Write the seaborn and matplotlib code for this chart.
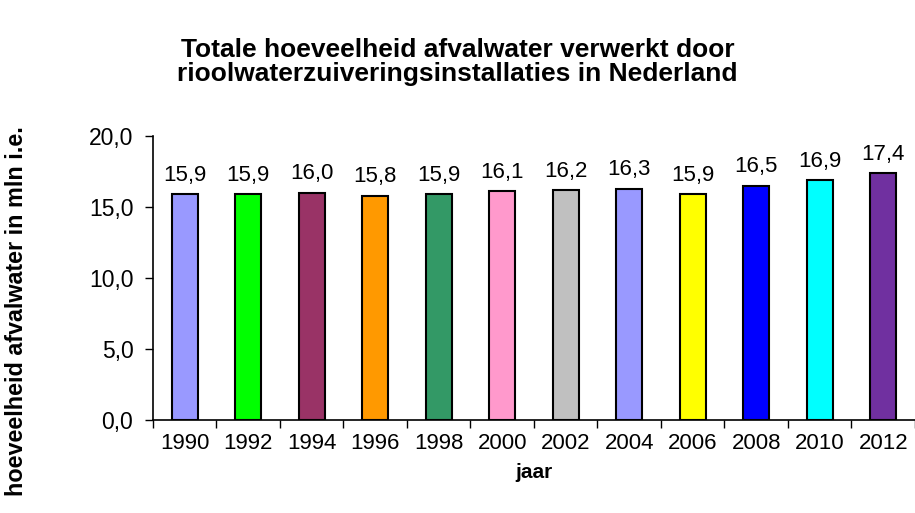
import pandas as pd
import seaborn as sns
import matplotlib.pyplot as plt
from matplotlib.ticker import FuncFormatter, FixedLocator

years = ['1990', '1992', '1994', '1996', '1998', '2000', '2002', '2004', '2006', '2008', '2010', '2012']
volume = [15.9, 15.9, 16.0, 15.8, 15.9, 16.1, 16.2, 16.3, 15.9, 16.5, 16.9, 17.4]
bar_colors = ['#9999FF', '#00FF00', '#993366', '#FF9900', '#339966', '#FF99CC',
              '#C0C0C0', '#9999FF', '#FFFF00', '#0000FF', '#00FFFF', '#7030A0']

sns.set_style('white')
plt.rcParams['font.family'] = ['Liberation Sans', 'DejaVu Sans']
plt.rcParams['text.color'] = 'black'
plt.rcParams['xtick.color'] = 'black'
plt.rcParams['ytick.color'] = 'black'

df = pd.DataFrame({'jaar': years, 'waarde': volume})

fig = plt.figure(figsize=(9.15, 5.13), dpi=100)
ax = fig.add_axes([0.167, 0.181, 0.833, 0.554])

sns.barplot(data=df, x='jaar', y='waarde', hue='jaar', palette=bar_colors,
            legend=False, width=0.41, edgecolor='black', linewidth=1.5,
            saturation=1, ax=ax)

def comma(v):
    return f'{v:.1f}'.replace('.', ',')

for i, v in enumerate(volume):
    ax.annotate(comma(v), (i, v), xytext=(0, 6), textcoords='offset points',
                ha='center', va='bottom', fontsize=16)

ax.set_ylim(0, 20)
ax.set_xlim(-0.5, 11.5)
ax.set_yticks([0, 5, 10, 15, 20])
ax.yaxis.set_major_formatter(FuncFormatter(lambda v, p: comma(v)))
ax.tick_params(axis='y', length=6, width=1, direction='out', labelsize=16.5, left=True, pad=8)
ax.tick_params(axis='x', which='major', length=0, labelsize=16, pad=9)
ax.xaxis.set_minor_locator(FixedLocator([i - 0.5 for i in range(len(years) + 1)]))
ax.tick_params(axis='x', which='minor', length=6, width=1, direction='out', bottom=True)

for s in ['top', 'right']:
    ax.spines[s].set_visible(False)
for s in ['left', 'bottom']:
    ax.spines[s].set_color('black')
    ax.spines[s].set_linewidth(1.2)

ax.set_xlabel('')
ax.set_ylabel('')
fig.text(0.584, 0.078, 'jaar', ha='center', va='center', fontsize=15, fontweight='bold')
fig.text(0.018, 0.755, 'hoeveelheid afvalwater in mln i.e.', rotation=90, ha='center', va='top',
         fontsize=16.8, fontweight='bold')
fig.text(0.5, 0.88, 'Totale hoeveelheid afvalwater verwerkt door\nrioolwaterzuiveringsinstallaties in Nederland',
         ha='center', va='center', fontsize=19, fontweight='bold', linespacing=1.0)

plt.savefig('out.png', dpi=100)
